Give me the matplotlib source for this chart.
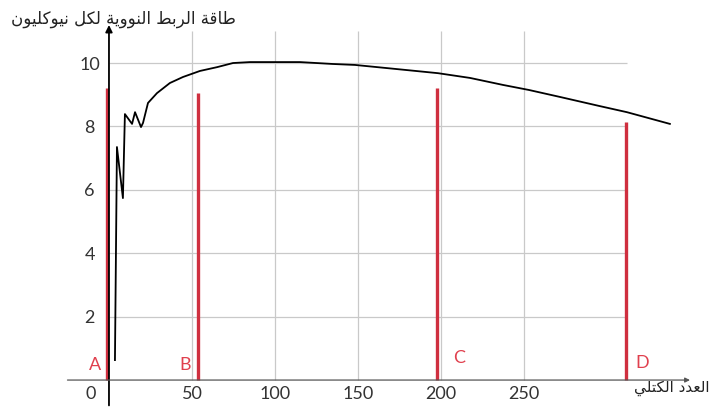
import numpy as np
import matplotlib
matplotlib.use("Agg")
import matplotlib.pyplot as plt

# Data
mass_number = [3.6, 4.8, 8.4, 9.6, 13.9, 15.7, 19.3, 20.5, 23.5, 28.9, 36.7, 44.6,
               54.8, 65.1, 74.7, 84.9, 97.0, 115.1, 134.9, 148.2, 167.5, 198.2,
               217.5, 237.3, 253.0, 271.7, 295.8, 312.0, 337.9]
binding_energy = [0.63, 7.35, 5.74, 8.39, 8.08, 8.45, 7.98, 8.11, 8.74, 9.05, 9.37, 9.56,
                  9.75, 9.87, 10.0, 10.03, 10.03, 10.03, 9.97, 9.94, 9.84, 9.68,
                  9.53, 9.31, 9.15, 8.93, 8.64, 8.45, 8.08]

marker_names = ["A", "B", "C", "D"]
marker_x = [-1.2, 53.6, 197.6, 311.4]
marker_top = [9.2, 9.05, 9.2, 8.14]

xticks = [50, 100, 150, 200, 250]
yticks = [2, 4, 6, 8, 10]

ylabel_text = "طاقة الربط النووية لكل نيوكليون"
xlabel_text = "العدد الكتلي"

# minimal arabic shaping: (isolated, final, initial, medial)
FORMS = {
    "ا": ("\uFE8D", "\uFE8E", None, None),
    "ب": ("\uFE8F", "\uFE90", "\uFE91", "\uFE92"),
    "ة": ("\uFE93", "\uFE94", None, None),
    "ت": ("\uFE95", "\uFE96", "\uFE97", "\uFE98"),
    "د": ("\uFEA9", "\uFEAA", None, None),
    "ر": ("\uFEAD", "\uFEAE", None, None),
    "ط": ("\uFEC1", "\uFEC2", "\uFEC3", "\uFEC4"),
    "ع": ("\uFEC9", "\uFECA", "\uFECB", "\uFECC"),
    "ق": ("\uFED5", "\uFED6", "\uFED7", "\uFED8"),
    "ك": ("\uFED9", "\uFEDA", "\uFEDB", "\uFEDC"),
    "ل": ("\uFEDD", "\uFEDE", "\uFEDF", "\uFEE0"),
    "ن": ("\uFEE5", "\uFEE6", "\uFEE7", "\uFEE8"),
    "و": ("\uFEED", "\uFEEE", None, None),
    "ي": ("\uFEF1", "\uFEF2", "\uFEF3", "\uFEF4"),
}


def shape(text):
    out = []
    for i, c in enumerate(text):
        if c not in FORMS:
            out.append(c)
            continue
        f = FORMS[c]
        prev = text[i - 1] if i > 0 else None
        nxt = text[i + 1] if i + 1 < len(text) else None
        join_prev = prev in FORMS and FORMS[prev][2] is not None
        join_next = nxt in FORMS and f[2] is not None
        if join_prev and join_next:
            out.append(f[3])
        elif join_prev:
            out.append(f[1])
        elif join_next:
            out.append(f[2])
        else:
            out.append(f[0])
    return "".join(reversed(out))


plt.rcParams["font.family"] = ["Lato", "DejaVu Sans"]

fig = plt.figure(figsize=(7.14, 4.07), dpi=100)
ax = fig.add_axes([0.0945, 0.0, 0.8765, 0.9386])
ax.set_xlim(-25, 352)
ax.set_ylim(-0.85, 11.2)
ax.spines["left"].set_position(("data", 0))
ax.spines["bottom"].set_position(("data", 0))
for s in ax.spines.values():
    s.set_visible(False)

# grid
grid_c = "#c9c9c9"
ax.hlines(yticks, 0, 312, color=grid_c, lw=0.9, zorder=1)
ax.vlines(xticks, 0, 11.0, color=grid_c, lw=0.9, zorder=1)

# axes with arrows
ax.annotate("", xy=(0, 11.2), xytext=(0, -0.8),
            arrowprops=dict(arrowstyle="-|>", color="black", lw=1.3,
                            mutation_scale=10, shrinkA=0, shrinkB=0), zorder=4)
ax.annotate("", xy=(350, 0), xytext=(-25, 0),
            arrowprops=dict(arrowstyle="-|>", color="#555555", lw=0.9,
                            mutation_scale=7, shrinkA=0, shrinkB=0), zorder=4)

# red markers
red = "#cf2f3f"
for name, x, top in zip(marker_names, marker_x, marker_top):
    ax.vlines(x, 0, top, color=red, lw=2.4, zorder=3)
label_pos = {"A": (-8.4, 0.47), "B": (45.8, 0.47), "C": (211, 0.69), "D": (321, 0.54)}
for name in marker_names:
    lx, ly = label_pos[name]
    ax.text(lx, ly, name, color="#e0404e", fontsize=13, ha="center", va="center")

# binding energy curve
ax.plot(mass_number, binding_energy, color="black", lw=1.3, zorder=5,
        solid_joinstyle="round")

# tick labels
ax.set_xticks(xticks)
ax.set_xticklabels([str(t) for t in xticks], fontsize=13, color="#333333")
ax.set_yticks(yticks)
ax.set_yticklabels([str(t) for t in yticks], fontsize=13, color="#333333", ha="center")
ax.tick_params(axis="both", length=0)
ax.tick_params(axis="x", pad=4)
ax.tick_params(axis="y", pad=14)
ax.text(-11, -0.2, "0", fontsize=13, color="#333333", ha="center", va="top")

fig.text(123 / 714, 1 - 19 / 407, shape(ylabel_text), family="DejaVu Sans",
         fontsize=12, ha="center", va="center", color="#222222")
fig.text(672 / 714, 1 - 388 / 407, shape(xlabel_text), family="DejaVu Sans",
         fontsize=11, ha="center", va="center", color="#222222")

fig.savefig("out.png", dpi=100, facecolor="white")
